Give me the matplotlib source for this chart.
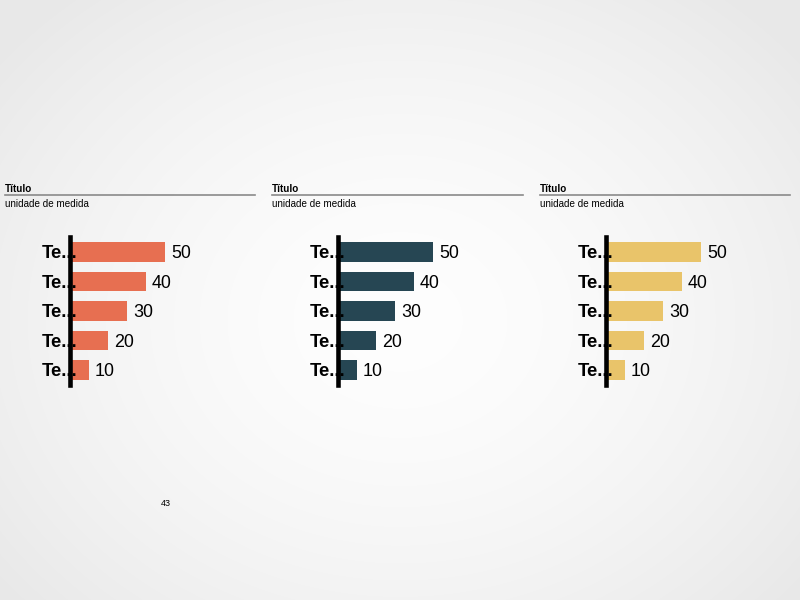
import numpy as np
import matplotlib
matplotlib.use("Agg")
import matplotlib.pyplot as plt
from matplotlib.transforms import offset_copy
from matplotlib.lines import Line2D

plt.rcParams['font.family'] = ['Liberation Sans', 'DejaVu Sans']

categories = ["Te...", "Te...", "Te...", "Te...", "Te..."]
values_1 = [50, 40, 30, 20, 10]
values_2 = [50, 40, 30, 20, 10]
values_3 = [50, 40, 30, 20, 10]
series = [values_1, values_2, values_3]
colors = ["#E76F51", "#264653", "#E9C46A"]
titles = ["Título", "Título", "Título"]
subtitles = ["unidade de medida", "unidade de medida", "unidade de medida"]
page_number = "43"

W, H = 800, 600
fig = plt.figure(figsize=(8, 6), dpi=100)

# radial gradient background
bg = fig.add_axes([0, 0, 1, 1], zorder=-10)
yy, xx = np.mgrid[0:H, 0:W]
r = np.sqrt(((xx - 400) / 400.0) ** 2 + ((yy - 320) / 330.0) ** 2)
val = 0.995 - 0.085 * np.clip(r / 1.3, 0, 1) ** 1.6
bg.imshow(np.dstack([val, val, val]), extent=[0, W, H, 0], aspect='auto')
bg.set_axis_off()

def fx(px):
    return px / W

def fy(py):
    return 1 - py / H

axis_x = [70, 338, 606]
title_x = [5, 272, 540]
line_end = [255, 523, 790]
top, bottom = 237, 385
scale = 1.9  # px per unit
ax_width_px = 190

for i in range(3):
    # titles
    fig.text(fx(title_x[i]), fy(192), titles[i], fontsize=7.1, fontweight='bold',
             ha='left', va='baseline', color='black')
    fig.text(fx(title_x[i]), fy(206.7), subtitles[i], fontsize=7.1,
             ha='left', va='baseline', color='black')
    fig.add_artist(Line2D([fx(title_x[i]), fx(line_end[i])], [fy(195), fy(195)],
                          color='#8a8a8a', linewidth=1.2))

    ax = fig.add_axes([fx(axis_x[i]), fy(bottom), ax_width_px / W, (bottom - top) / H])
    ax.patch.set_alpha(0)
    n = len(series[i])
    pos = np.arange(n)
    ax.barh(pos, series[i], height=0.66, color=colors[i], zorder=1)
    ax.set_ylim(n - 0.5, -0.5)
    ax.set_xlim(0, ax_width_px / scale)
    for s in ['top', 'right', 'bottom']:
        ax.spines[s].set_visible(False)
    ax.spines['left'].set_linewidth(3.3)
    ax.spines['left'].set_color('black')
    ax.spines['left'].set_zorder(3)
    ax.set_xticks([])
    ax.set_yticks([])
    lab_tr = offset_copy(ax.transData, fig=fig, x=5.5, y=-4.4, units='points')
    val_tr = offset_copy(ax.transData, fig=fig, x=4.3, y=-4.4, units='points')
    for j, (c, v) in enumerate(zip(categories, series[i])):
        ax.text(0, j, c, transform=lab_tr, ha='right', va='baseline', fontsize=13.2,
                fontweight='bold', color='black', zorder=2)
        ax.text(v, j, str(v), transform=val_tr, ha='left', va='baseline', fontsize=12.9,
                color='black')

fig.text(fx(166), fy(504), page_number, fontsize=6.5, ha='center', va='center', color='black')

fig.savefig("out.png", dpi=100)
